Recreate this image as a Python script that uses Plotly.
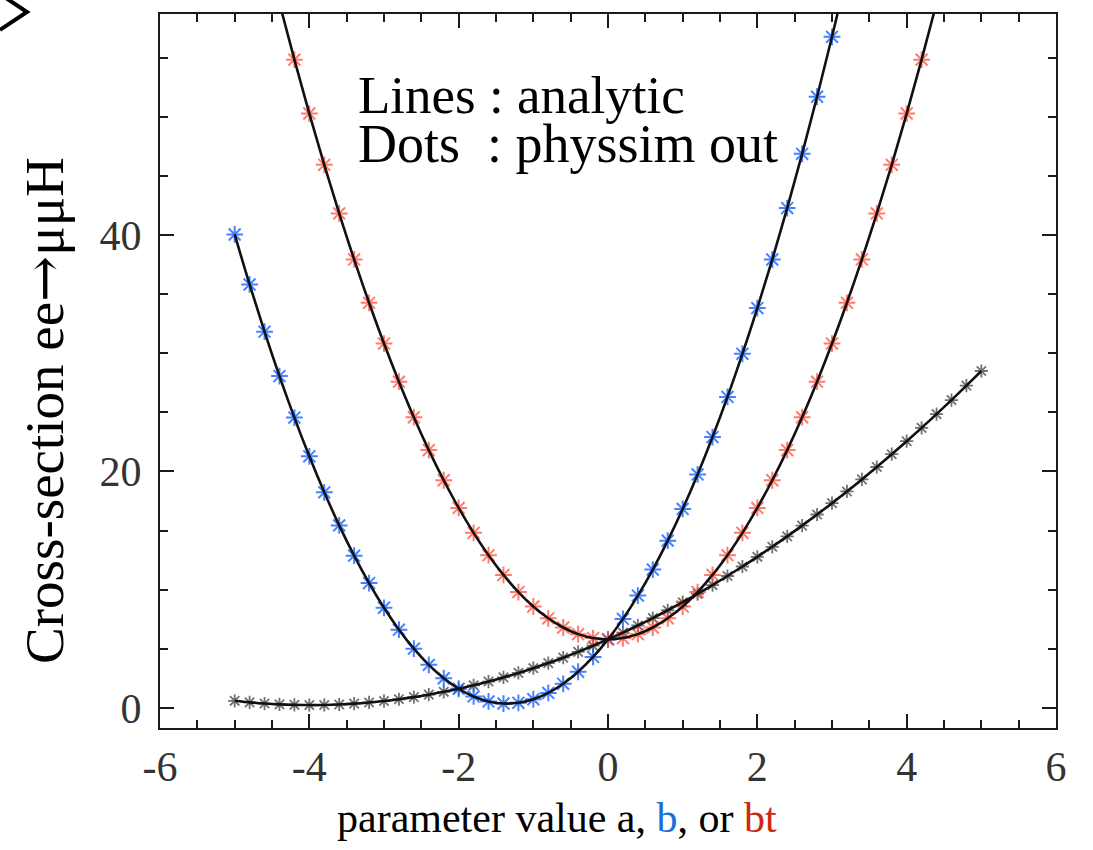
import plotly.graph_objects as go

# ---------------- data ----------------
a_x = [-5.0, -4.8, -4.6, -4.4, -4.2, -4.0, -3.8, -3.6, -3.4, -3.2, -3.0, -2.8, -2.6, -2.4, -2.2,
       -2.0, -1.8, -1.6, -1.4, -1.2, -1.0, -0.8, -0.6, -0.4, -0.2, 0.0, 0.2, 0.4, 0.6, 0.8, 1.0,
       1.2, 1.4, 1.6, 1.8, 2.0, 2.2, 2.4, 2.6, 2.8, 3.0, 3.2, 3.4, 3.6, 3.8, 4.0, 4.2, 4.4, 4.6,
       4.8, 5.0]
a_y = [0.60, 0.47, 0.37, 0.30, 0.26, 0.24, 0.25, 0.29, 0.36, 0.46, 0.58, 0.73, 0.91, 1.12, 1.36,
       1.62, 1.91, 2.23, 2.58, 2.96, 3.36, 3.79, 4.25, 4.74, 5.26, 5.80, 6.37, 6.97, 7.60, 8.26,
       8.94, 9.65, 10.39, 11.16, 11.96, 12.78, 13.63, 14.51, 15.42, 16.36, 17.32, 18.31, 19.33,
       20.38, 21.46, 22.56, 23.69, 24.85, 26.04, 27.26, 28.50]

b_x = [-5.0, -4.8, -4.6, -4.4, -4.2, -4.0, -3.8, -3.6, -3.4, -3.2, -3.0, -2.8, -2.6, -2.4, -2.2,
       -2.0, -1.8, -1.6, -1.4, -1.2, -1.0, -0.8, -0.6, -0.4, -0.2, 0.0, 0.2, 0.4, 0.6, 0.8, 1.0,
       1.2, 1.4, 1.6, 1.8, 2.0, 2.2, 2.4, 2.6, 2.8, 3.0, 3.2]
b_y = [40.05, 35.82, 31.83, 28.07, 24.56, 21.28, 18.24, 15.44, 12.88, 10.56, 8.47, 6.62, 5.01,
       3.64, 2.51, 1.62, 0.97, 0.55, 0.37, 0.43, 0.73, 1.27, 2.04, 3.06, 4.31, 5.80, 7.53, 9.50,
       11.70, 14.15, 16.83, 19.75, 22.91, 26.31, 29.95, 33.82, 37.93, 42.28, 46.87, 51.70, 56.77,
       62.08]

bt_x = [-4.6, -4.4, -4.2, -4.0, -3.8, -3.6, -3.4, -3.2, -3.0, -2.8, -2.6, -2.4, -2.2, -2.0, -1.8,
        -1.6, -1.4, -1.2, -1.0, -0.8, -0.6, -0.4, -0.2, 0.0, 0.2, 0.4, 0.6, 0.8, 1.0, 1.2, 1.4,
        1.6, 1.8, 2.0, 2.2, 2.4, 2.6, 2.8, 3.0, 3.2, 3.4, 3.6, 3.8, 4.0, 4.2, 4.4, 4.6]
bt_y = [64.62, 59.62, 54.84, 50.28, 45.94, 41.83, 37.94, 34.27, 30.82, 27.60, 24.59, 21.81, 19.26,
        16.92, 14.81, 12.92, 11.25, 9.80, 8.58, 7.58, 6.80, 6.24, 5.91, 5.80, 5.91, 6.24, 6.80,
        7.58, 8.58, 9.80, 11.25, 12.92, 14.81, 16.92, 19.26, 21.81, 24.59, 27.60, 30.82, 34.27,
        37.94, 41.83, 45.94, 50.28, 54.84, 59.62, 64.62]

x_tick_vals = [-6, -4, -2, 0, 2, 4, 6]
x_tick_text = ["-6", "-4", "-2", "0", "2", "4", "6"]
y_tick_vals = [0, 20, 40]
y_tick_text = ["0", "20", "40"]

# ---------------- figure ----------------
W, H = 1093, 850
ML, MR, MT, MB = 160, 37, 12, 122
PW, PH = W - ML - MR, H - MT - MB


def px(x):
    return (x - ML) / PW


def py(y):
    return (H - MB - y) / PH


SERIF = "Liberation Serif, Times New Roman, serif"

fig = go.Figure()

# markers ("physsim out")
marker_styles = [
    (a_x, a_y, "rgba(20,20,20,0.6)", 11, 1.8),
    (b_x, b_y, "rgba(25,100,255,0.8)", 14, 2.0),
    (bt_x, bt_y, "rgba(255,80,60,0.75)", 14, 2.0),
]
for xs, ys, col, sz, lw in marker_styles:
    fig.add_trace(go.Scatter(x=xs, y=ys, mode="markers",
                             marker=dict(symbol="asterisk-open", size=sz, color=col,
                                         line=dict(color=col, width=lw)),
                             showlegend=False))

# analytic lines
for xs, ys in ((a_x, a_y), (b_x, b_y), (bt_x, bt_y)):
    fig.add_trace(go.Scatter(x=xs, y=ys, mode="lines", line_shape="spline",
                             line=dict(color="#111111", width=2.6), showlegend=False))

axis_common = dict(showline=True, linecolor="#1a1a1a", linewidth=2.2, mirror="ticks",
                   ticks="inside", ticklen=14, tickwidth=2, tickcolor="#1a1a1a",
                   showgrid=False, zeroline=False,
                   tickfont=dict(family=SERIF, size=42, color="#333333"))

fig.update_xaxes(range=[-6, 6], tickmode="array", tickvals=x_tick_vals, ticktext=x_tick_text,
                 minor=dict(tickmode="linear", tick0=0, dtick=0.5, ticks="inside", ticklen=8,
                            tickwidth=2, tickcolor="#1a1a1a", showgrid=False),
                 **axis_common)
fig.update_yaxes(range=[-1.7, 58.7], tickmode="array", tickvals=y_tick_vals, ticktext=y_tick_text,
                 minor=dict(tickmode="linear", tick0=0, dtick=5, ticks="inside", ticklen=8,
                            tickwidth=2, tickcolor="#1a1a1a", showgrid=False),
                 ticklabelstandoff=8, **axis_common)

annotations = [
    dict(text="Lines : analytic", x=px(356), y=py(93), xanchor="left", yanchor="middle",
         font=dict(family=SERIF, size=53, color="#000000")),
    dict(text="Dots\u00a0\u00a0: physsim out", x=px(356), y=py(142), xanchor="left", yanchor="middle",
         font=dict(family=SERIF, size=54, color="#000000")),
    dict(text='parameter value a, <span style="color:#1a6fd8">b</span>, or '
              '<span style="color:#cc2a10">bt</span>',
         x=px(557), y=py(818), xanchor="center", yanchor="middle",
         font=dict(family=SERIF, size=42, color="#000000")),
    dict(text='Cross-section ee<span style="font-family:DejaVu Serif">\u2192</span>\u03bc\u03bcH',
         textangle=-90,
         x=px(44), y=py(410), xanchor="center", yanchor="middle",
         font=dict(family=SERIF, size=55, color="#000000")),
]
for an in annotations:
    an.update(xref="paper", yref="paper", showarrow=False)

fig.update_layout(
    width=W, height=H,
    margin=dict(l=ML, r=MR, t=MT, b=MB, pad=0),
    paper_bgcolor="white", plot_bgcolor="white",
    annotations=annotations,
    shapes=[dict(type="path", xref="paper", yref="paper",
                 path=f"M {px(0)} {py(-8)} L {px(27)} {py(10)} L {px(0)} {py(28)}",
                 line=dict(color="black", width=4))],
)

fig.write_html("out.html")
